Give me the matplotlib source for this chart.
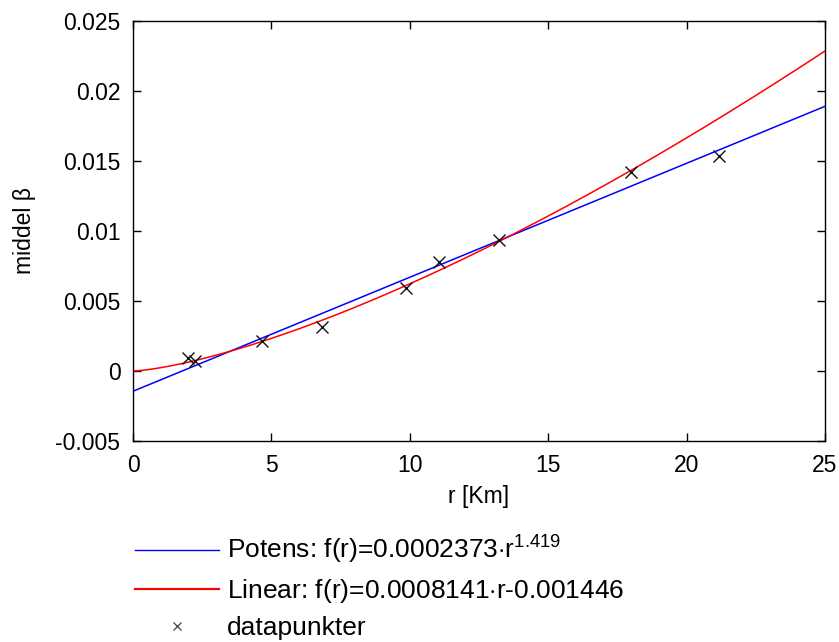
import numpy as np
import matplotlib
matplotlib.use("Agg")
import matplotlib.pyplot as plt
from matplotlib.lines import Line2D

plt.rcParams['font.family'] = ['Liberation Sans', 'DejaVu Sans']
plt.rcParams['mathtext.fontset'] = 'custom'
plt.rcParams['mathtext.rm'] = 'Liberation Sans'
plt.rcParams['mathtext.it'] = 'Liberation Sans'

# measured points
r_data = [1.99, 2.24, 4.65, 6.84, 9.86, 11.05, 13.22, 17.99, 21.16]
beta_data = [0.00093, 0.00074, 0.00214, 0.00312, 0.00590, 0.00776, 0.00936, 0.01424, 0.01536]

# fit coefficients
pow_a, pow_b = 0.0002373, 1.419
lin_k, lin_m = 0.0008141, -0.001446

x_ticks = [0, 5, 10, 15, 20, 25]
y_ticks = [-0.005, 0, 0.005, 0.01, 0.015, 0.02, 0.025]
y_tick_labels = ['-0.005', '0', '0.005', '0.01', '0.015', '0.02', '0.025']

labels = ['Potens: f(r)=0.0002373$\\cdot$r$^{1.419}$',
          'Linear: f(r)=0.0008141$\\cdot$r-0.001446',
          'datapunkter']

fig = plt.figure(figsize=(8.39, 6.42), dpi=100)
ax = fig.add_axes([133/839, 1-441/642, (825-133)/839, (441-21)/642])

r = np.linspace(0, 25, 400)
ax.plot(r, lin_k * r + lin_m, color='#0000ff', lw=1.1)
ax.plot(r, pow_a * r ** pow_b, color='#ff0000', lw=1.1)
ax.plot(r_data, beta_data, linestyle='none', marker='x', color='#111111',
        markersize=8, markeredgewidth=1.0)

ax.set_xlim(0, 25)
ax.set_ylim(-0.005, 0.025)
ax.set_xticks(x_ticks)
ax.set_yticks(y_ticks)
ax.set_yticklabels(y_tick_labels)
ax.tick_params(direction='in', top=True, right=True, labelsize=16.5,
               length=6, width=1, pad=9)
for s in ax.spines.values():
    s.set_linewidth(1.0)
ax.set_xlabel('r [Km]', fontsize=16.5, labelpad=6)
ax.set_ylabel('middel β', fontsize=16.5, labelpad=14)

handles = [Line2D([], [], color='#0000ff', lw=1.0),
           Line2D([], [], color='#ff0000', lw=1.6),
           Line2D([], [], linestyle='none', marker='x', color='#555555',
                  markersize=6, markeredgewidth=1.0)]
fig.legend(handles, labels, loc='upper left', bbox_to_anchor=(135/839, 1-534/642),
           frameon=False, fontsize=19, handlelength=3.2, handletextpad=0.3,
           labelspacing=0.42, borderaxespad=0, borderpad=0)

fig.savefig('out.png', dpi=100)
